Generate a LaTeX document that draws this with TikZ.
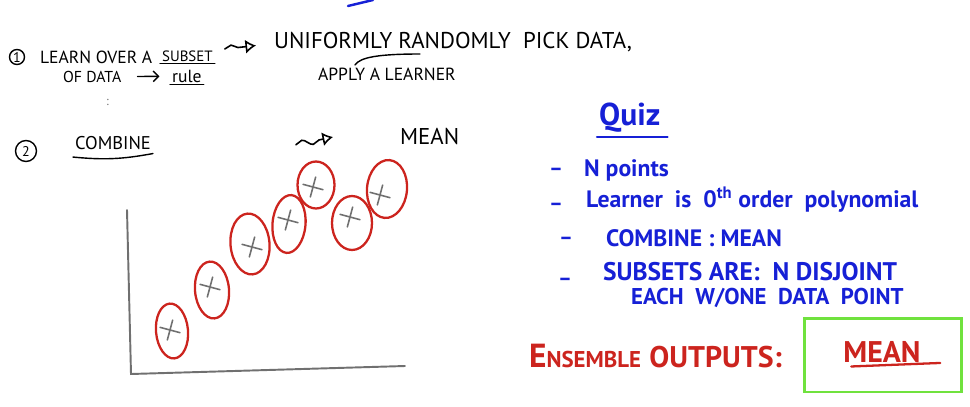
\documentclass[tikz,border=0pt]{standalone}
\usepackage{fontspec}
\setmainfont{PT Sans}
\usetikzlibrary{shapes.geometric,shapes.misc,arrows.meta,decorations.pathmorphing}

\definecolor{quizblue}{RGB}{22,32,214}
\definecolor{penred}{RGB}{204,36,30}
\definecolor{boxgreen}{RGB}{112,226,62}
\definecolor{axisgray}{RGB}{112,112,112}

\tikzset{
  note/.style={anchor=west, inner sep=1pt, font=\fontsize{#1}{#1}\selectfont},
  note/.default=10,
  marker/.style={anchor=west, inner sep=1pt, font=\bfseries\fontsize{#1}{#1}\selectfont},
  numcircle/.style={circle, draw, line width=0.8pt, inner sep=0pt, font=\fontsize{8}{8}\selectfont},
  egg/.style={ellipse, draw=penred, line width=1.3pt, inner sep=0pt},
  xmark/.style={cross out, draw=axisgray, line width=0.9pt, minimum size=0.26cm, inner sep=0pt, rotate=30},
  squiggle/.style={decorate, decoration={snake, amplitude=1.8pt, segment length=12pt, pre length=0pt, post length=6pt},
    -{Latex[open,length=6pt,width=8pt]}, line width=0.9pt},
}

\begin{document}
\begin{tikzpicture}[x=0.02cm, y=-0.02cm, line cap=round]
    \useasboundingbox (0,0) rectangle (970,406);

    % Step 1
    \draw[quizblue, line width=1.4pt] (348,6) -- (373,0);
    \node[numcircle, minimum size=0.3cm] (one) at (17,57) {1};
    \node[note=10] (learn) at (38,57) {LEARN OVER A};
    \node[note=8.5] (subset) at (160,56) {SUBSET};
    \draw[line width=0.8pt] (subset.south west) -- (subset.south east);
    \node[note=13] (uniform) at (272,42) {UNIFORMLY RANDOMLY\ \ PICK DATA,};
    \draw[squiggle] ([xshift=0.2cm, yshift=4pt]subset.east) -- ([xshift=-0.32cm, yshift=-2pt]uniform.west);
    \node[note=9] (ofdata) at (61,77) {OF DATA};
    \node[note=10] (rule) at (170,76) {rule};
    \draw[line width=0.8pt] (rule.south west) -- (rule.south east);
    \draw[-{Straight Barb[length=3pt,width=6pt]}, line width=0.8pt, shorten <=8pt, shorten >=6pt] (ofdata) -- (rule);
    \node[note=10] (apply) at (316,74) {APPLY A LEARNER};
    \draw[line width=0.8pt] (355,65) .. controls (360,57) and (380,54) .. (420,54);
    \node[note=7, axisgray] (dots) at (104,102) {:};

    % Step 2
    \node[numcircle, minimum size=0.42cm] (two) at (26,151) {2};
    \node[note=10.5] (combine) at (73,143) {COMBINE};
    \draw[line width=0.8pt] ([yshift=-3pt]combine.south west) to[bend right=8] ([yshift=-1pt]combine.south east);
    \node[note=13] (mean) at (398,137) {MEAN};
    \draw[squiggle] ([xshift=2.86cm, yshift=-1pt]combine.east) -- ([xshift=-1.3cm]mean.west);

    % Plot
    \coordinate (ytop) at (127,210);
    \coordinate (origin) at (131,374);
    \coordinate (xend) at (405,366);
    \draw[axisgray, line width=1.1pt] (ytop) -- (origin) -- (xend);

    \node[xmark] (x1) at (170,330) {};
    \node[xmark] (x2) at (210,287) {};
    \node[xmark] (x3) at (252,247) {};
    \node[xmark] (x4) at (288,220) {};
    \node[xmark] (x5) at (313,187) {};
    \node[xmark] (x6) at (350,217) {};
    \node[xmark] (x7) at (380,195) {};
    \node[egg, minimum width=0.64cm, minimum height=1.1cm, rotate=5] (e1) at (172,331) {};
    \node[egg, minimum width=0.68cm, minimum height=1.14cm, rotate=5] (e2) at (212,290) {};
    \node[egg, minimum width=0.78cm, minimum height=1.22cm, rotate=5] (e3) at (250,244) {};
    \node[egg, minimum width=0.66cm, minimum height=1.16cm, rotate=-5] (e4) at (289,224) {};
    \node[egg, minimum width=0.74cm, minimum height=0.94cm] (e5) at (316,185) {};
    \node[egg, minimum width=0.8cm, minimum height=1.08cm] (e6) at (352,223) {};
    \node[egg, minimum width=0.8cm, minimum height=1.16cm, rotate=-5] (e7) at (387,189) {};

    % Quiz
    \node[marker=18, quizblue] (quiz) at (597,118) {Quiz};
    \draw[quizblue, line width=1.2pt] ([yshift=-1pt]quiz.south west) -- ([xshift=3pt, yshift=-1pt]quiz.south east);
    \node[marker=12, quizblue] (dash1) at (547,172) {--};
    \node[marker=13.5, quizblue] (item1) at (582,170) {N points};
    \node[marker=12, quizblue] (dash2) at (547,207) {--};
    \node[marker=13.5, quizblue] (item2) at (584,200) {Learner\ \ is\ \ 0\textsuperscript{th} order\ \ polynomial};
    \node[marker=12, quizblue] (dash3) at (557,241) {--};
    \node[marker=13.5, quizblue] (item3) at (604,238) {COMBINE : MEAN};
    \node[marker=12, quizblue] (dash4) at (556,282) {--};
    \node[marker=14.5, quizblue] (item4) at (601,272) {SUBSETS ARE:\ \ N DISJOINT};
    \node[marker=13, quizblue] (item4b) at (629,298) {EACH\ \ W/ONE\ \ DATA\ \ POINT};

    % Ensemble output
    \node[marker=19, penred] (ensemble) at (527,356) {E{\fontsize{13}{13}\selectfont NSEMBLE} {\fontsize{17}{17}\selectfont OUTPUTS:}};
    \node[draw=boxgreen, line width=1.7pt, minimum width=3.14cm, minimum height=1.48cm] (outbox) at (883,355) {};
    \node[penred, font=\bfseries\fontsize{17}{17}\selectfont, inner sep=1pt] (outmean) at (882,352) {MEAN};
    \draw[penred, line width=1.3pt] ([xshift=0.2cm, yshift=-1pt]outmean.south west) -- ([xshift=0.35cm, yshift=1pt]outmean.south east);
\end{tikzpicture}
\end{document}
